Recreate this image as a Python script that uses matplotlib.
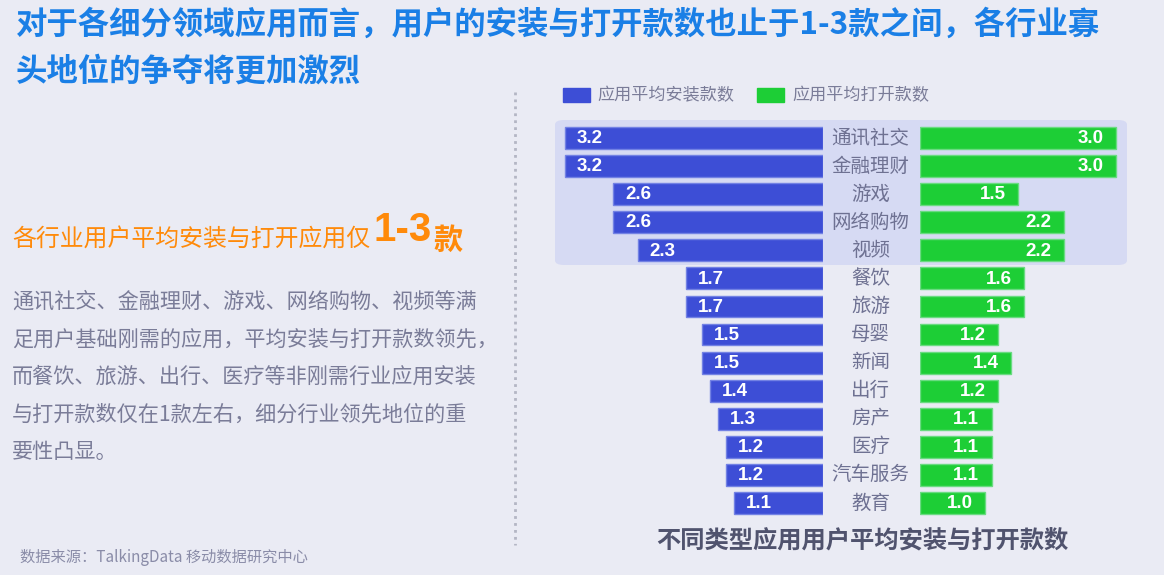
import numpy as np
import matplotlib.pyplot as plt
from matplotlib.patches import FancyBboxPatch
from matplotlib.lines import Line2D

plt.rcParams['font.family'] = ['Noto Sans CJK SC', 'DejaVu Sans']

categories = ['通讯社交', '金融理财', '游戏', '网络购物', '视频', '餐饮', '旅游',
              '母婴', '新闻', '出行', '房产', '医疗', '汽车服务', '教育']
install = [3.2, 3.2, 2.6, 2.6, 2.3, 1.7, 1.7, 1.5, 1.5, 1.4, 1.3, 1.2, 1.2, 1.1]
opened = [3.0, 3.0, 1.5, 2.2, 2.2, 1.6, 1.6, 1.2, 1.4, 1.2, 1.1, 1.1, 1.1, 1.0]

body_lines = ['通讯社交、金融理财、游戏、网络购物、视频等满',
              '足用户基础刚需的应用，平均安装与打开款数领先，',
              '而餐饮、旅游、出行、医疗等非刚需行业应用安装',
              '与打开款数仅在1款左右，细分行业领先地位的重',
              '要性凸显。']

W, H = 1164, 575
bg = '#EAEBF4'
blue = '#3D4ED6'
green = '#1DCE36'
grey = '#7A7C98'
num_font = 'Liberation Sans'

fig = plt.figure(figsize=(W / 100, H / 100), dpi=100, facecolor=bg)


def fx(x):
    return x / W


def fy(y):
    return 1 - y / H


# highlight box behind the top five rows
box = FancyBboxPatch((fx(555), fy(265)), fx(572), 145 / H,
                     boxstyle='round,pad=0,rounding_size=0.008',
                     transform=fig.transFigure, facecolor='#D6DAF3',
                     edgecolor='none', zorder=-1)
fig.patches.append(box)

# dotted separator
fig.add_artist(Line2D([fx(515), fx(515)], [fy(92), fy(545)], transform=fig.transFigure,
                      color='#B4B6C4', linestyle=(0, (1, 1.5)), linewidth=2))

n = len(categories)
y = np.arange(n)
top, bottom = 124, 517

# left axis: install counts, growing leftwards
left_px, right_px = 470, 823
ax_l = fig.add_axes([fx(left_px), fy(bottom), fx(right_px - left_px), (bottom - top) / H])
ax_l.barh(y, install, height=0.78, color=blue, edgecolor='#7382E4', linewidth=1)
ax_l.set_xlim((right_px - left_px) / 80.6, 0)
ax_l.set_ylim(n - 0.5, -0.5)
for i, v in enumerate(install):
    ax_l.annotate(f'{v:.1f}', (v, i), xytext=(8.5, -0.5), textcoords='offset points',
                  ha='left', va='center', color='white', fontsize=13.5,
                  fontweight='bold', family=num_font)
ax_l.axis('off')

# right axis: opened counts
g_left, g_right = 920, 1160
ax_r = fig.add_axes([fx(g_left), fy(bottom), fx(g_right - g_left), (bottom - top) / H])
ax_r.barh(y, opened, height=0.78, color=green, edgecolor='#6ADB82', linewidth=1)
ax_r.set_xlim(0, (g_right - g_left) / 65.3)
ax_r.set_ylim(n - 0.5, -0.5)
for i, v in enumerate(opened):
    ax_r.annotate(f'{v:.1f}', (v, i), xytext=(-9, -0.5), textcoords='offset points',
                  ha='right', va='center', color='white', fontsize=13.5,
                  fontweight='bold', family=num_font)
ax_r.axis('off')

# category labels in the middle
for i, c in enumerate(categories):
    ax_r.annotate(c, (0, i), xytext=(-35.5, 0), textcoords='offset points',
                  ha='center', va='center', color='#6E7192', fontsize=14,
                  annotation_clip=False)

# legend
fig.patches.append(plt.Rectangle((fx(563), fy(102)), fx(27), 14 / H,
                                 transform=fig.transFigure, color=blue))
fig.text(fx(597), fy(95), '应用平均安装款数', color=grey, fontsize=12.3, va='center')
fig.patches.append(plt.Rectangle((fx(757), fy(102)), fx(27), 14 / H,
                                 transform=fig.transFigure, color=green))
fig.text(fx(792), fy(95), '应用平均打开款数', color=grey, fontsize=12.3, va='center')

# headline
title_c = '#1A7FE6'
fig.text(fx(16), fy(25), '对于各细分领域应用而言，用户的安装与打开款数也止于1-3款之间，各行业寡',
         color=title_c, fontsize=22.6, fontweight='bold', va='center')
fig.text(fx(16), fy(72), '头地位的争夺将更加激烈',
         color=title_c, fontsize=22.6, fontweight='bold', va='center')

# orange subheading
orange = '#FF8A0A'
fig.text(fx(12), fy(240), '各行业用户平均安装与打开应用仅', color=orange,
         fontsize=17.2, va='center')
fig.text(fx(432), fy(230), '1-3', color=orange, fontsize=29, fontweight='bold',
         family=num_font, ha='right', va='center')
fig.text(fx(433), fy(240), '款', color=orange, fontsize=21, fontweight='bold', va='center')

# body text
for k, line in enumerate(body_lines):
    fig.text(fx(12), fy(302 + 37.5 * k), line, color=grey, fontsize=15.2, va='center')

# bottom chart title and source
fig.text(fx(862), fy(541), '不同类型应用用户平均安装与打开款数', color='#50536E',
         fontsize=17.5, fontweight='bold', ha='center', va='center')
fig.text(fx(20), fy(557), '数据来源：TalkingData 移动数据研究中心', color='#8A8CA8',
         fontsize=11, va='center')

fig.savefig('out.png', dpi=100, facecolor=bg)
